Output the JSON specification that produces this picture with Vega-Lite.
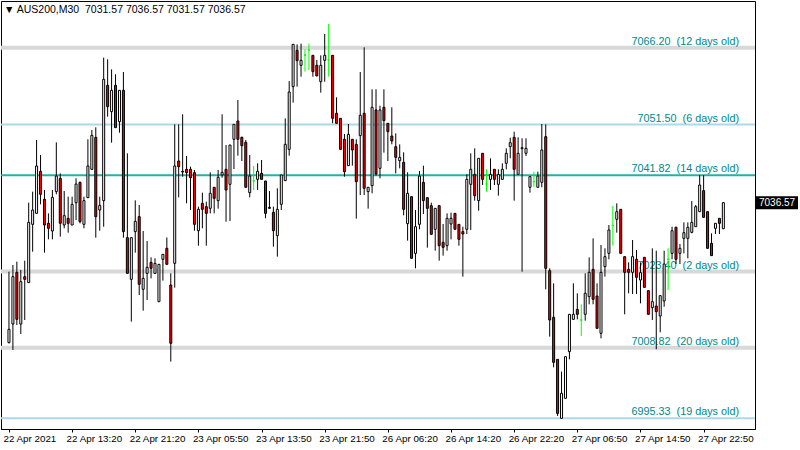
{
"$schema": "https://vega.github.io/schema/vega-lite/v6.json",
"width": 754, "height": 428,
"autosize": {"type": "none"},
"padding": {"left": 1, "top": 1, "right": 45, "bottom": 21},
"background": "#ffffff",
"config": {"view": {"stroke": "#000000", "strokeWidth": 1}, "font": "Liberation Sans"},
"datasets": {
"levels": [
{"price": 7066.20, "label": "7066.20\u00a0 (12 days old)"},
{"price": 7051.50, "label": "7051.50\u00a0 (6 days old)"},
{"price": 7041.82, "label": "7041.82\u00a0 (14 days old)"},
{"price": 7023.40, "label": "7023.40\u00a0 (2 days old)"},
{"price": 7008.82, "label": "7008.82\u00a0 (20 days old)"},
{"price": 6995.33, "label": "6995.33\u00a0 (19 days old)"}
],
"header": [
{"text": "▼ AUS200,M30\u00a0 7031.57 7036.57 7031.57 7036.57"}
],
"candles": [
{"i":0,"open":7009.79,"high":7023.37,"low":7009.66,"close":7012.34},
{"i":1,"open":7013.36,"high":7024.64,"low":7008.39,"close":7022.41},
{"i":2,"open":7023.24,"high":7025.28,"low":7013.17,"close":7014.25},
{"i":3,"open":7013.36,"high":7023.69,"low":7011.45,"close":7021.46},
{"i":4,"open":7022.41,"high":7025.47,"low":7014.13,"close":7021.90},
{"i":5,"open":7021.27,"high":7036.56,"low":7021.27,"close":7032.80},
{"i":6,"open":7032.42,"high":7038.67,"low":7027.19,"close":7035.16},
{"i":7,"open":7034.52,"high":7048.55,"low":7034.52,"close":7043.58},
{"i":8,"open":7042.56,"high":7045.68,"low":7036.25,"close":7038.16},
{"i":9,"open":7037.20,"high":7038.99,"low":7027.00,"close":7032.29},
{"i":10,"open":7032.61,"high":7034.52,"low":7029.55,"close":7031.66},
{"i":11,"open":7031.15,"high":7038.99,"low":7029.55,"close":7037.58},
{"i":12,"open":7038.67,"high":7048.10,"low":7038.16,"close":7041.66},
{"i":13,"open":7041.22,"high":7042.17,"low":7030.06,"close":7032.61},
{"i":14,"open":7032.29,"high":7038.80,"low":7031.66,"close":7034.08},
{"i":15,"open":7033.57,"high":7037.71,"low":7030.83,"close":7032.61},
{"i":16,"open":7032.29,"high":7037.71,"low":7032.29,"close":7036.25},
{"i":17,"open":7036.56,"high":7041.22,"low":7033.25,"close":7040.13},
{"i":18,"open":7040.45,"high":7040.58,"low":7032.61,"close":7032.93},
{"i":19,"open":7032.42,"high":7037.71,"low":7031.66,"close":7036.95},
{"i":20,"open":7037.52,"high":7048.68,"low":7037.52,"close":7043.58},
{"i":21,"open":7042.94,"high":7050.46,"low":7042.81,"close":7049.44},
{"i":22,"open":7049.06,"high":7050.97,"low":7029.87,"close":7033.89},
{"i":23,"open":7035.16,"high":7037.71,"low":7031.21,"close":7036.05},
{"i":24,"open":7036.95,"high":7064.29,"low":7031.97,"close":7060.15},
{"i":25,"open":7059.00,"high":7063.98,"low":7053.01,"close":7054.92},
{"i":26,"open":7053.97,"high":7062.06,"low":7048.04,"close":7058.05},
{"i":27,"open":7059.00,"high":7061.11,"low":7050.91,"close":7050.91},
{"i":28,"open":7052.05,"high":7058.05,"low":7049.95,"close":7058.05},
{"i":29,"open":7058.05,"high":7061.55,"low":7029.87,"close":7031.02},
{"i":30,"open":7029.87,"high":7046.00,"low":7023.05,"close":7023.05},
{"i":31,"open":7021.90,"high":7029.87,"low":7013.81,"close":7029.87},
{"i":32,"open":7031.02,"high":7037.01,"low":7027.00,"close":7032.99},
{"i":33,"open":7033.89,"high":7036.12,"low":7018.91,"close":7020.95},
{"i":34,"open":7019.99,"high":7031.15,"low":7015.91,"close":7022.09},
{"i":35,"open":7023.05,"high":7029.23,"low":7017.95,"close":7024.20},
{"i":36,"open":7025.15,"high":7026.11,"low":7022.09,"close":7024.01},
{"i":37,"open":7023.05,"high":7025.92,"low":7023.05,"close":7024.96},
{"i":38,"open":7017.63,"high":7024.77,"low":7017.63,"close":7024.77},
{"i":39,"open":7025.73,"high":7026.68,"low":7021.65,"close":7026.68},
{"i":40,"open":7027.83,"high":7029.91,"low":7024.77,"close":7024.77},
{"i":41,"open":7020.82,"high":7023.05,"low":7006.16,"close":7009.66},
{"i":42,"open":7024.96,"high":7051.54,"low":7020.31,"close":7043.58},
{"i":43,"open":7044.53,"high":7051.54,"low":7037.58,"close":7043.45},
{"i":44,"open":7042.56,"high":7053.46,"low":7041.54,"close":7042.43},
{"i":45,"open":7042.94,"high":7045.49,"low":7036.44,"close":7042.30},
{"i":46,"open":7042.94,"high":7043.45,"low":7035.16,"close":7041.34},
{"i":47,"open":7042.30,"high":7042.81,"low":7031.21,"close":7032.42},
{"i":48,"open":7031.21,"high":7035.80,"low":7028.34,"close":7035.29},
{"i":49,"open":7036.44,"high":7038.48,"low":7031.66,"close":7035.29},
{"i":50,"open":7035.80,"high":7036.75,"low":7028.34,"close":7034.52},
{"i":51,"open":7035.48,"high":7042.37,"low":7034.52,"close":7038.35},
{"i":52,"open":7039.50,"high":7039.50,"low":7034.52,"close":7037.39},
{"i":53,"open":7036.95,"high":7042.81,"low":7035.42,"close":7041.41},
{"i":54,"open":7041.86,"high":7053.46,"low":7041.34,"close":7042.37},
{"i":55,"open":7042.94,"high":7047.59,"low":7032.93,"close":7038.99},
{"i":56,"open":7040.07,"high":7047.59,"low":7033.06,"close":7047.59},
{"i":57,"open":7048.68,"high":7051.54,"low":7043.00,"close":7051.54},
{"i":58,"open":7052.18,"high":7056.20,"low":7045.55,"close":7048.68},
{"i":59,"open":7049.06,"high":7049.19,"low":7044.53,"close":7047.46},
{"i":60,"open":7048.10,"high":7048.55,"low":7039.50,"close":7039.50},
{"i":61,"open":7038.48,"high":7045.68,"low":7037.58,"close":7041.66},
{"i":62,"open":7040.71,"high":7043.58,"low":7038.99,"close":7040.71},
{"i":63,"open":7041.02,"high":7044.09,"low":7038.99,"close":7042.56},
{"i":64,"open":7042.17,"high":7044.73,"low":7041.02,"close":7041.02},
{"i":65,"open":7040.71,"high":7040.71,"low":7033.57,"close":7034.52},
{"i":66,"open":7035.67,"high":7038.80,"low":7035.48,"close":7035.48},
{"i":67,"open":7034.72,"high":7035.80,"low":7028.15,"close":7031.21},
{"i":68,"open":7030.25,"high":7039.31,"low":7026.24,"close":7035.29},
{"i":69,"open":7036.25,"high":7041.86,"low":7035.16,"close":7041.86},
{"i":70,"open":7040.77,"high":7052.69,"low":7040.77,"close":7047.72},
{"i":71,"open":7046.76,"high":7059.83,"low":7045.55,"close":7057.73},
{"i":72,"open":7058.75,"high":7066.84,"low":7055.69,"close":7066.84},
{"i":73,"open":7065.70,"high":7066.84,"low":7058.75,"close":7063.72},
{"i":74,"open":7062.83,"high":7066.97,"low":7060.66,"close":7063.78},
{"i":75,"open":7064.80,"high":7065.89,"low":7061.62,"close":7064.80},
{"i":76,"open":7065.76,"high":7066.97,"low":7061.94,"close":7065.76},
{"i":77,"open":7064.74,"high":7064.74,"low":7060.66,"close":7061.62},
{"i":78,"open":7062.83,"high":7063.85,"low":7060.79,"close":7060.79},
{"i":79,"open":7059.70,"high":7064.74,"low":7057.60,"close":7062.83},
{"i":80,"open":7063.78,"high":7068.82,"low":7059.70,"close":7064.74},
{"i":81,"open":7063.85,"high":7070.73,"low":7060.66,"close":7063.85},
{"i":82,"open":7064.74,"high":7064.74,"low":7051.74,"close":7052.69},
{"i":83,"open":7053.65,"high":7056.71,"low":7051.74,"close":7051.74},
{"i":84,"open":7052.69,"high":7052.69,"low":7046.76,"close":7046.76},
{"i":85,"open":7048.68,"high":7049.70,"low":7041.54,"close":7042.49},
{"i":86,"open":7043.64,"high":7051.61,"low":7043.64,"close":7049.63},
{"i":87,"open":7048.68,"high":7048.68,"low":7043.64,"close":7046.64},
{"i":88,"open":7047.72,"high":7048.68,"low":7033.50,"close":7040.58},
{"i":89,"open":7049.38,"high":7061.55,"low":7038.03,"close":7053.27},
{"i":90,"open":7053.65,"high":7066.27,"low":7038.03,"close":7039.31},
{"i":91,"open":7038.67,"high":7039.50,"low":7035.42,"close":7039.50},
{"i":92,"open":7039.82,"high":7058.24,"low":7038.35,"close":7054.80},
{"i":93,"open":7054.29,"high":7058.24,"low":7041.73,"close":7042.05},
{"i":94,"open":7043.13,"high":7055.11,"low":7041.22,"close":7054.29},
{"i":95,"open":7054.80,"high":7058.24,"low":7046.13,"close":7052.25},
{"i":96,"open":7051.74,"high":7051.74,"low":7044.53,"close":7050.14},
{"i":97,"open":7049.31,"high":7054.80,"low":7047.72,"close":7048.36},
{"i":98,"open":7047.27,"high":7049.82,"low":7042.17,"close":7045.23},
{"i":99,"open":7044.60,"high":7047.72,"low":7043.13,"close":7045.23},
{"i":100,"open":7044.28,"high":7046.19,"low":7034.14,"close":7035.29},
{"i":101,"open":7032.55,"high":7042.37,"low":7029.30,"close":7038.35},
{"i":102,"open":7037.71,"high":7037.71,"low":7025.92,"close":7025.92},
{"i":103,"open":7026.87,"high":7035.16,"low":7024.01,"close":7031.97},
{"i":104,"open":7032.42,"high":7042.62,"low":7031.47,"close":7041.66},
{"i":105,"open":7040.45,"high":7043.64,"low":7034.40,"close":7036.95},
{"i":106,"open":7037.52,"high":7037.52,"low":7027.96,"close":7035.48},
{"i":107,"open":7035.99,"high":7036.56,"low":7030.51,"close":7030.51},
{"i":108,"open":7031.47,"high":7035.48,"low":7027.38,"close":7035.48},
{"i":109,"open":7035.99,"high":7035.99,"low":7025.47,"close":7028.34},
{"i":110,"open":7028.98,"high":7032.48,"low":7026.43,"close":7028.02},
{"i":111,"open":7028.34,"high":7034.52,"low":7027.38,"close":7033.57},
{"i":112,"open":7032.48,"high":7034.65,"low":7029.55,"close":7033.57},
{"i":113,"open":7034.52,"high":7034.52,"low":7031.47,"close":7031.47},
{"i":114,"open":7032.42,"high":7032.42,"low":7028.34,"close":7029.55},
{"i":115,"open":7031.02,"high":7031.97,"low":7022.41,"close":7030.57},
{"i":116,"open":7031.47,"high":7041.98,"low":7030.57,"close":7041.02},
{"i":117,"open":7040.07,"high":7046.00,"low":7031.34,"close":7042.94},
{"i":118,"open":7041.98,"high":7046.95,"low":7036.95,"close":7037.90},
{"i":119,"open":7036.95,"high":7045.04,"low":7035.03,"close":7045.04},
{"i":120,"open":7046.00,"high":7046.00,"low":7039.94,"close":7041.02},
{"i":121,"open":7040.13,"high":7042.94,"low":7038.67,"close":7040.13},
{"i":122,"open":7041.02,"high":7045.04,"low":7038.99,"close":7041.98},
{"i":123,"open":7042.94,"high":7042.94,"low":7039.94,"close":7041.02},
{"i":124,"open":7040.07,"high":7042.94,"low":7037.90,"close":7041.98},
{"i":125,"open":7041.02,"high":7044.09,"low":7041.02,"close":7042.94},
{"i":126,"open":7044.09,"high":7046.95,"low":7042.94,"close":7046.00},
{"i":127,"open":7047.27,"high":7048.99,"low":7045.04,"close":7048.04},
{"i":128,"open":7049.06,"high":7050.14,"low":7036.95,"close":7042.94},
{"i":129,"open":7041.98,"high":7049.06,"low":7041.98,"close":7046.00},
{"i":130,"open":7046.89,"high":7048.87,"low":7023.37,"close":7047.08},
{"i":131,"open":7046.00,"high":7048.87,"low":7045.49,"close":7046.95},
{"i":132,"open":7039.50,"high":7041.54,"low":7038.48,"close":7041.54},
{"i":133,"open":7040.58,"high":7042.49,"low":7039.62,"close":7040.58},
{"i":134,"open":7039.50,"high":7042.49,"low":7039.50,"close":7041.66},
{"i":135,"open":7040.45,"high":7051.61,"low":7039.50,"close":7046.64},
{"i":136,"open":7049.19,"high":7051.54,"low":7019.99,"close":7024.01},
{"i":137,"open":7023.56,"high":7024.01,"low":7010.94,"close":7014.13},
{"i":138,"open":7014.64,"high":7021.14,"low":7005.07,"close":7006.03},
{"i":139,"open":7006.60,"high":7006.60,"low":6995.77,"close":6996.27},
{"i":140,"open":6995.32,"high":7004.25,"low":6995.32,"close":7000.10},
{"i":141,"open":6999.15,"high":7007.11,"low":6999.15,"close":7007.11},
{"i":142,"open":7008.07,"high":7015.21,"low":7006.60,"close":7015.21},
{"i":143,"open":7014.25,"high":7021.14,"low":7014.25,"close":7015.21},
{"i":144,"open":7016.16,"high":7019.23,"low":7014.25,"close":7015.21},
{"i":145,"open":7014.13,"high":7017.12,"low":7011.06,"close":7014.13},
{"i":146,"open":7015.21,"high":7023.05,"low":7014.00,"close":7019.23},
{"i":147,"open":7018.59,"high":7026.11,"low":7017.12,"close":7023.24},
{"i":148,"open":7023.81,"high":7029.74,"low":7017.12,"close":7018.08},
{"i":149,"open":7018.72,"high":7021.14,"low":7012.53,"close":7012.53},
{"i":150,"open":7011.58,"high":7028.47,"low":7010.62,"close":7023.24},
{"i":151,"open":7024.33,"high":7027.83,"low":7022.41,"close":7026.24},
{"i":152,"open":7026.87,"high":7032.29,"low":7025.73,"close":7031.34},
{"i":153,"open":7032.17,"high":7035.93,"low":7028.34,"close":7032.17},
{"i":154,"open":7033.38,"high":7036.44,"low":7030.83,"close":7034.84},
{"i":155,"open":7035.29,"high":7035.29,"low":7026.87,"close":7026.87},
{"i":156,"open":7026.24,"high":7026.24,"low":7015.21,"close":7023.24},
{"i":157,"open":7023.81,"high":7025.15,"low":7019.23,"close":7023.24},
{"i":158,"open":7023.24,"high":7029.43,"low":7019.10,"close":7026.24},
{"i":159,"open":7025.73,"high":7027.51,"low":7019.10,"close":7022.28},
{"i":160,"open":7021.77,"high":7025.15,"low":7017.31,"close":7023.18},
{"i":161,"open":7026.11,"high":7026.11,"low":7020.37,"close":7020.37},
{"i":162,"open":7019.74,"high":7019.74,"low":7015.21,"close":7015.21},
{"i":163,"open":7016.48,"high":7027.83,"low":7014.13,"close":7017.63},
{"i":164,"open":7016.80,"high":7027.38,"low":7008.52,"close":7015.72},
{"i":165,"open":7014.89,"high":7018.78,"low":7011.77,"close":7018.78},
{"i":166,"open":7017.76,"high":7027.38,"low":7016.67,"close":7024.83},
{"i":167,"open":7025.73,"high":7027.83,"low":7019.86,"close":7025.73},
{"i":168,"open":7026.87,"high":7031.97,"low":7025.73,"close":7031.21},
{"i":169,"open":7031.85,"high":7031.97,"low":7024.83,"close":7025.73},
{"i":170,"open":7026.87,"high":7028.66,"low":7024.83,"close":7027.83},
{"i":171,"open":7029.74,"high":7032.80,"low":7026.87,"close":7030.83},
{"i":172,"open":7029.74,"high":7032.80,"low":7025.92,"close":7031.85},
{"i":173,"open":7030.89,"high":7036.88,"low":7030.70,"close":7032.80},
{"i":174,"open":7031.97,"high":7036.12,"low":7031.97,"close":7035.80},
{"i":175,"open":7034.84,"high":7041.86,"low":7034.84,"close":7039.94},
{"i":176,"open":7038.86,"high":7041.86,"low":7033.76,"close":7033.76},
{"i":177,"open":7034.84,"high":7034.84,"low":7027.83,"close":7027.83},
{"i":178,"open":7028.79,"high":7030.70,"low":7026.43,"close":7026.43},
{"i":179,"open":7031.66,"high":7032.61,"low":7030.57,"close":7032.61},
{"i":180,"open":7033.57,"high":7033.57,"low":7030.57,"close":7032.61},
{"i":181,"open":7031.57,"high":7036.57,"low":7031.57,"close":7036.57}
]
},
"layer": [
{
"data": {"name": "levels"},
"mark": {"type": "rule"},
"encoding": {
"y": {"field": "price", "type": "quantitative", "scale": {"domain": [6993.28, 7075.13], "nice": false, "zero": false},
"axis": {"orient": "right", "title": null, "values": [6993.85, 7000.15, 7006.45, 7012.75, 7019.05, 7025.35, 7031.65, 7037.95, 7044.25, 7050.55, 7056.85, 7063.15, 7069.45], "format": ".2f", "grid": false, "domain": true, "domainColor": "#000000", "tickColor": "#000000", "tickSize": 4, "labelPadding": 1, "labelFont": "Liberation Sans", "labelFontSize": 10, "labelColor": "#000000", "labelBaseline": "middle", "labelOverlap": false, "labelFlush": false}},
"color": {"condition": [{"test": "datum.price == 7041.82", "value": "#20B2AA"}, {"test": "datum.price == 7051.5 || datum.price == 6995.33", "value": "#ADD8E6"}], "value": "#D8D8D8"},
"strokeWidth": {"condition": {"test": "datum.price == 7041.82 || datum.price == 7051.5 || datum.price == 6995.33", "value": 2}, "value": 4}
}
},
{
"data": {"name": "levels"},
"mark": {"type": "text", "align": "right", "baseline": "alphabetic", "dy": -3, "dx": -16, "fontSize": 10.8, "font": "Liberation Sans", "color": "#008787"},
"encoding": {
"x": {"value": "width"},
"y": {"field": "price", "type": "quantitative", "scale": {"domain": [6993.28, 7075.13], "nice": false, "zero": false}, "axis": null},
"text": {"field": "label", "type": "nominal"}
}
},
{
"data": {"name": "candles"},
"mark": {"type": "rule", "strokeWidth": 1},
"encoding": {
"x": {"field": "i", "type": "quantitative", "scale": {"domain": [-0.75, 187.75], "nice": false, "zero": false},
"axis": {"title": null, "values": [0, 16, 32, 48, 64, 80, 96, 112, 128, 144, 160, 176], "labelExpr": "['22 Apr 2021','22 Apr 13:20','22 Apr 21:20','23 Apr 05:50','23 Apr 13:50','23 Apr 21:50','26 Apr 06:20','26 Apr 14:20','26 Apr 22:20','27 Apr 06:50','27 Apr 14:50','27 Apr 22:50'][round(datum.value/16)]", "grid": false, "domainColor": "#000000", "tickColor": "#000000", "tickSize": 3, "labelAlign": "left", "labelBaseline": "top", "labelPadding": 1, "labelOffset": -6, "labelFont": "Liberation Sans", "labelFontSize": 9.8, "labelColor": "#000000", "labelOverlap": false, "labelFlush": false}},
"y": {"field": "low", "type": "quantitative", "scale": {"domain": [6993.28, 7075.13], "nice": false, "zero": false}, "axis": null},
"y2": {"field": "high"},
"color": {"condition": {"test": "datum.open == datum.close", "value": "#00FF00"}, "value": "#000000"}
}
},
{
"data": {"name": "candles"},
"mark": {"type": "bar", "size": 2, "strokeWidth": 1},
"encoding": {
"x": {"field": "i", "type": "quantitative"},
"y": {"field": "open", "type": "quantitative", "scale": {"domain": [6993.28, 7075.13], "nice": false, "zero": false}, "axis": null},
"y2": {"field": "close"},
"fill": {"condition": [{"test": "datum.open == datum.close", "value": "#00FF00"}, {"test": "datum.close < datum.open", "value": "#FF0000"}], "value": "#FFFFFF"},
"stroke": {"condition": {"test": "datum.open == datum.close", "value": "#00FF00"}, "value": "#000000"}
}
},
{
"data": {"name": "candles"},
"transform": [{"filter": "datum.i == 181"}],
"mark": {"type": "rule", "strokeWidth": 13, "color": "#000000"},
"encoding": {
"x": {"value": 755},
"x2": {"value": 797},
"y": {"field": "close", "type": "quantitative", "scale": {"domain": [6993.28, 7075.13], "nice": false, "zero": false}, "axis": null}
}
},
{
"data": {"name": "candles"},
"transform": [{"filter": "datum.i == 181"}],
"mark": {"type": "text", "align": "left", "baseline": "middle", "fontSize": 10, "font": "Liberation Sans", "color": "#FFFFFF", "dx": 4},
"encoding": {
"x": {"value": "width"},
"y": {"field": "close", "type": "quantitative", "scale": {"domain": [6993.28, 7075.13], "nice": false, "zero": false}, "axis": null},
"text": {"field": "close", "type": "quantitative", "format": ".2f"}
}
},
{
"data": {"name": "header"},
"mark": {"type": "text", "align": "left", "baseline": "middle", "fontSize": 10.5, "font": "Liberation Sans", "color": "#000000"},
"encoding": {
"x": {"value": 3},
"y": {"value": 9},
"text": {"field": "text", "type": "nominal"}
}
}
]
}
